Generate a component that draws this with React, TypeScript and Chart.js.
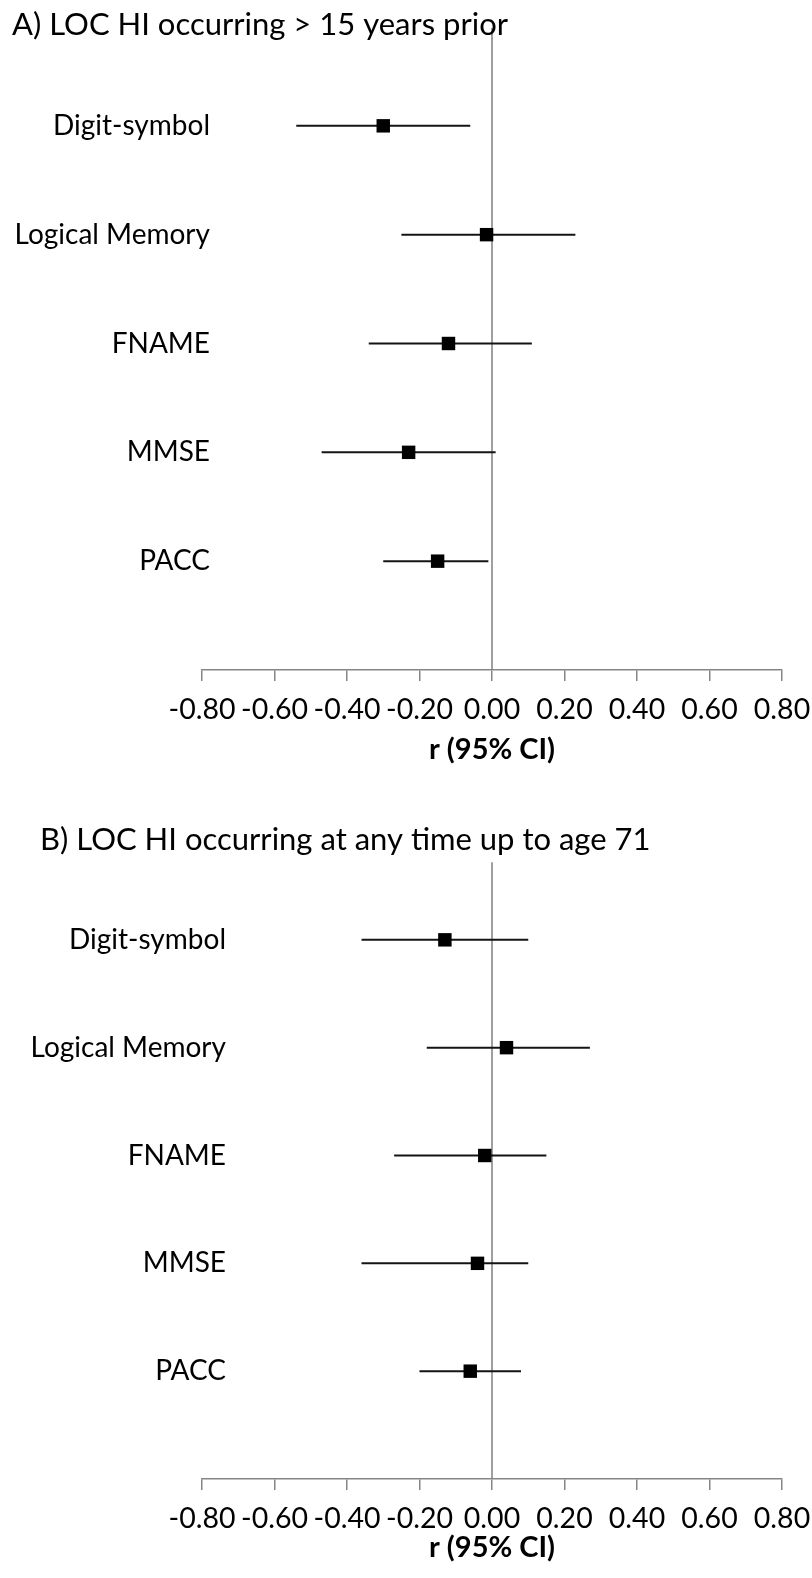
import React, { useEffect, useRef } from "react";
import { Chart, registerables } from "chart.js";

Chart.register(...registerables);

// ---------- data ----------
const categories = ["Digit-symbol", "Logical Memory", "FNAME", "MMSE", "PACC"];
const panelTitles = [
  "A) LOC HI occurring > 15 years prior",
  "B) LOC HI occurring at any time up to age 71",
];
const rA = [-0.3, -0.015, -0.12, -0.23, -0.15];
const loA = [-0.54, -0.25, -0.34, -0.47, -0.3];
const hiA = [-0.06, 0.23, 0.11, 0.01, -0.01];
const rB = [-0.13, 0.04, -0.02, -0.04, -0.06];
const loB = [-0.36, -0.18, -0.27, -0.36, -0.2];
const hiB = [0.1, 0.27, 0.15, 0.1, 0.08];
const xTicks = [-0.8, -0.6, -0.4, -0.2, 0, 0.2, 0.4, 0.6, 0.8];
const xAxisTitle = "r (95% CI)";

const FONT = "Lato, 'Open Sans', sans-serif";

type Layout = {
  top: number;
  height: number;
  padTop: number;
  scaleHeight: number;
  titleX: number;
  titleY: number;
  labelRight: number;
  zeroTop: number;
};

const layouts: Layout[] = [
  { top: 0, height: 780, padTop: 17, scaleHeight: 110, titleX: 12, titleY: 25, labelRight: 210, zeroTop: 0.1 },
  { top: 780, height: 798, padTop: 52, scaleHeight: 99, titleX: 40, titleY: 60, labelRight: 226, zeroTop: 0.28 },
];

const textPlugin = {
  id: "panelText",
  afterDraw(chart: any, _args: any, opts: any) {
    const ctx = chart.ctx;
    const y = chart.scales.y;
    ctx.save();
    ctx.fillStyle = "#000";
    ctx.textBaseline = "middle";
    // category labels
    ctx.font = `28px ${FONT}`;
    ctx.textAlign = "right";
    categories.forEach((c, i) => {
      ctx.fillText(c, opts.labelRight, y.getPixelForValue(i + 1));
    });
    // panel title
    ctx.font = `31px ${FONT}`;
    ctx.textAlign = "left";
    ctx.fillText(opts.title, opts.titleX, opts.titleY);
    ctx.restore();
  },
};

function Panel({ idx }: { idx: number }) {
  const ref = useRef<HTMLCanvasElement>(null);
  const L = layouts[idx];
  const r = idx === 0 ? rA : rB;
  const lo = idx === 0 ? loA : loB;
  const hi = idx === 0 ? hiA : hiB;

  useEffect(() => {
    if (!ref.current) return;
    const whiskers = categories.map((_, i) => ({
      data: [
        { x: lo[i], y: i + 1 },
        { x: hi[i], y: i + 1 },
      ],
      showLine: true,
      borderColor: "#141414",
      borderWidth: 2,
      pointRadius: 0,
      order: 1,
    }));
    const chart = new Chart(ref.current, {
      type: "scatter",
      data: {
        datasets: [
          {
            data: categories.map((_, i) => ({ x: r[i], y: i + 1 })),
            pointStyle: "rect",
            pointRadius: 9.5,
            backgroundColor: "#000",
            borderColor: "#000",
            borderWidth: 0,
            order: 0,
          },
          ...whiskers,
          {
            data: [
              { x: 0, y: L.zeroTop },
              { x: 0, y: 6 },
            ],
            showLine: true,
            borderColor: "#808080",
            borderWidth: 1.5,
            pointRadius: 0,
            order: 2,
          },
        ] as any,
      },
      options: {
        animation: false,
        responsive: false,
        events: [],
        layout: { padding: { top: L.padTop, left: 202, right: 30, bottom: 0 } },
        scales: {
          x: {
            type: "linear",
            min: -0.8,
            max: 0.8,
            afterBuildTicks: (s: any) => {
              s.ticks = xTicks.map((v) => ({ value: v }));
            },
            afterFit: (s: any) => {
              s.height = L.scaleHeight;
              s.paddingLeft = 0;
              s.paddingRight = 0;
            },
            border: { display: true, color: "#858585", width: 1.5 },
            grid: {
              display: true,
              drawOnChartArea: false,
              drawTicks: true,
              tickLength: 11,
              color: "#858585",
              lineWidth: 1.5,
            },
            ticks: {
              padding: 12,
              color: "#000",
              maxRotation: 0,
              autoSkip: false,
              font: { family: FONT, size: 28.5 },
              callback: (v: any) => Number(v).toFixed(2),
            },
            title: {
              display: true,
              text: xAxisTitle,
              color: "#000",
              font: { family: FONT, size: 29, weight: "bold" },
              padding: { top: 0, bottom: 12.6 },
            },
          },
          y: { type: "linear", min: 0, max: 6, reverse: true, display: false },
        },
        plugins: {
          legend: { display: false },
          tooltip: { enabled: false },
          panelText: {
            title: panelTitles[idx],
            titleX: L.titleX,
            titleY: L.titleY,
            labelRight: L.labelRight,
          },
        } as any,
      },
      plugins: [textPlugin],
    });
    return () => chart.destroy();
  }, []);

  return (
    <canvas
      ref={ref}
      width={812}
      height={L.height}
      style={{ position: "absolute", left: 0, top: L.top, width: 812, height: L.height, display: "block" }}
    />
  );
}

export default function App() {
  return (
    <div style={{ position: "absolute", left: 0, top: 0, width: 812, height: 1578, background: "#fff" }}>
      <Panel idx={0} />
      <Panel idx={1} />
    </div>
  );
}
